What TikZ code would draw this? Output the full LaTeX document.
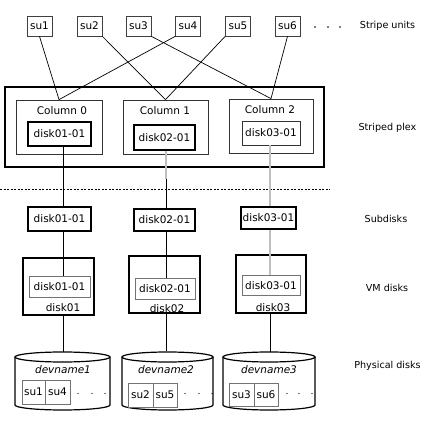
\documentclass[tikz,border=0pt]{standalone}
\usepackage{fontspec}
\setmainfont{DejaVu Sans}
\usetikzlibrary{calc}
\begin{document}
\begin{tikzpicture}[x=1pt,y=-1pt,
  every node/.style={inner sep=0pt, font=\fontsize{10.5}{12}\selectfont},
  subox/.style={draw=black!75, line width=0.8pt, minimum width=25pt, minimum height=20pt},
  thinbox/.style={draw=black!80, line width=0.8pt},
  thickbox/.style={draw=black, line width=1.8pt},
  midbox/.style={draw=black, line width=1.3pt},
  greybox/.style={draw=black!55, line width=0.8pt},
  conn/.style={draw=black, line width=0.7pt},
  greyconn/.style={draw=black!25, line width=1.5pt},
  rlabel/.style={font=\fontsize{9.6}{11}\selectfont},
  cyl/.style={draw=black, line width=1.2pt}
]
\useasboundingbox (0,0) rectangle (432,425);

% stripe units
\node[subox] (su1) at (39.5,26) {su1};
\node[subox] (su2) at (89.5,26) {su2};
\node[subox] (su3) at (138.5,26) {su3};
\node[subox] (su4) at (188,26) {su4};
\node[subox] (su5) at (238,26) {su5};
\node[subox] (su6) at (287.5,26) {su6};
\foreach \x in {315,328,340} \fill (\x,27) circle (0.8);
\node[rlabel] (lsu) at (387.5,26) {Stripe units};

% striped plex
\node[thickbox, minimum width=319, minimum height=80] (plex) at (164.5,127) {};
\node[thinbox, minimum width=86, minimum height=54] (col0) at (59,127) {};
\node[thinbox, minimum width=85, minimum height=54] (col1) at (165.5,127) {};
\node[thinbox, minimum width=84, minimum height=54] (col2) at (271,126) {};
\node (c0t) at (62,111) {Column 0};
\node (c1t) at (165,111) {Column 1};
\node (c2t) at (270,110) {Column 2};
\node[thickbox, minimum width=63, minimum height=24] (pd1) at (59.5,134) {disk01-01};
\node[midbox, minimum width=61, minimum height=25] (pd2) at (164.5,137.5) {disk02-01};
\node[thinbox, minimum width=58, minimum height=24] (pd3) at (271,133) {disk03-01};
\node[rlabel] (lsp) at (387.5,128) {Striped plex};

\draw[black, line width=0.6pt, dash pattern=on 2pt off 1.5pt] (0,189) -- (330,189);

% subdisks
\node[thickbox, minimum width=63, minimum height=24] (sd1) at (59.5,219) {disk01-01};
\node[thickbox, minimum width=61, minimum height=22] (sd2) at (164.5,220) {disk02-01};
\node[midbox, minimum width=55, minimum height=22] (sd3) at (268.5,218) {disk03-01};
\node[rlabel] (lsd) at (386,219) {Subdisks};

% VM disks
\node[midbox, minimum width=71, minimum height=57] (vm1) at (58.5,286.5) {};
\node[midbox, minimum width=71, minimum height=57] (vm2) at (164.5,284.5) {};
\node[midbox, minimum width=70, minimum height=58] (vm3) at (271,284) {};
\node[greybox, minimum width=61, minimum height=21] (vi1) at (59.5,286.5) {disk01-01};
\node[greybox, minimum width=60, minimum height=21] (vi2) at (165,288.5) {disk02-01};
\node[greybox, minimum width=58, minimum height=20] (vi3) at (271,285.5) {disk03-01};
\node (v1t) at (63,307.5) {disk01};
\node (v2t) at (167,309) {disk02};
\node (v3t) at (273,307.5) {disk03};
\node[rlabel] (lvm) at (387,288) {VM disks};

% physical disks (cylinders)
\foreach \l/\r in {15/110,122/213,223/315}{
  \pgfmathsetmacro{\cx}{(\l+\r)/2}
  \pgfmathsetmacro{\rx}{(\r-\l)/2}
  \draw[cyl] (\cx,357) ellipse [x radius=\rx, y radius=5];
  \draw[cyl] (\l,357) -- (\l,405) arc[start angle=180, end angle=0, x radius=\rx, y radius=5] -- (\r,357);
}
\coordinate (cy1) at (62.5,352);
\coordinate (cy2) at (167.5,351);
\coordinate (cy3) at (269,352);
\node (dn1) at (63,370) {\itshape devname1};
\node (dn2) at (166,370) {\itshape devname2};
\node (dn3) at (269,370) {\itshape devname3};
\node[greybox, minimum width=23, minimum height=24] (ps1) at (33.5,392) {su1};
\node[greybox, minimum width=25, minimum height=24] (ps4) at (57.5,392) {su4};
\node[greybox, minimum width=25, minimum height=24] (ps2) at (140.5,395) {su2};
\node[greybox, minimum width=24, minimum height=24] (ps5) at (165,395) {su5};
\node[greybox, minimum width=25, minimum height=23] (ps3) at (241.5,394.5) {su3};
\node[greybox, minimum width=24, minimum height=23] (ps6) at (266,394.5) {su6};
\foreach \x in {78,92,105,185,199,212,287,299,312} \fill (\x,393.5) circle (0.7);
\node[rlabel] (lpd) at (387.5,366) {Physical disks};

% stripe unit connectors
\draw[conn] (su1.south) -- (col0.north);
\draw[conn] (su4.south west) -- (col0.north);
\draw[conn] (su2.south east) -- (col1.north);
\draw[conn] (su5.south west) -- (col1.north);
\draw[conn] (su3.south east) -- (col2.north);
\draw[conn] (su6.south) -- (col2.north);

% vertical connectors
\coordinate (L1) at (63,0);
\coordinate (L2) at (166,0);
\coordinate (L3) at (270,0);
\coordinate (m2) at ($(pd2.south -| L2)!0.5!(sd2.north -| L2)$);
\draw[conn] (pd1.south -| L1) -- (sd1.north -| L1);
\draw[conn] (sd1.south -| L1) -- (vi1.north -| L1);
\draw[conn] (vm1.south -| L1) -- (cy1 -| L1);
\draw[greyconn] (pd2.south -| L2) -- (m2);
\draw[conn] (m2) -- (sd2.north -| L2);
\draw[conn] (sd2.south -| L2) -- (vi2.north -| L2);
\draw[conn] (vm2.south -| L2) -- (cy2 -| L2);
\draw[greyconn] (pd3.south -| L3) -- (sd3.north -| L3);
\draw[greyconn] (sd3.south -| L3) -- (vi3.north -| L3);
\draw[conn] (vm3.south -| L3) -- (cy3 -| L3);
\end{tikzpicture}
\end{document}
